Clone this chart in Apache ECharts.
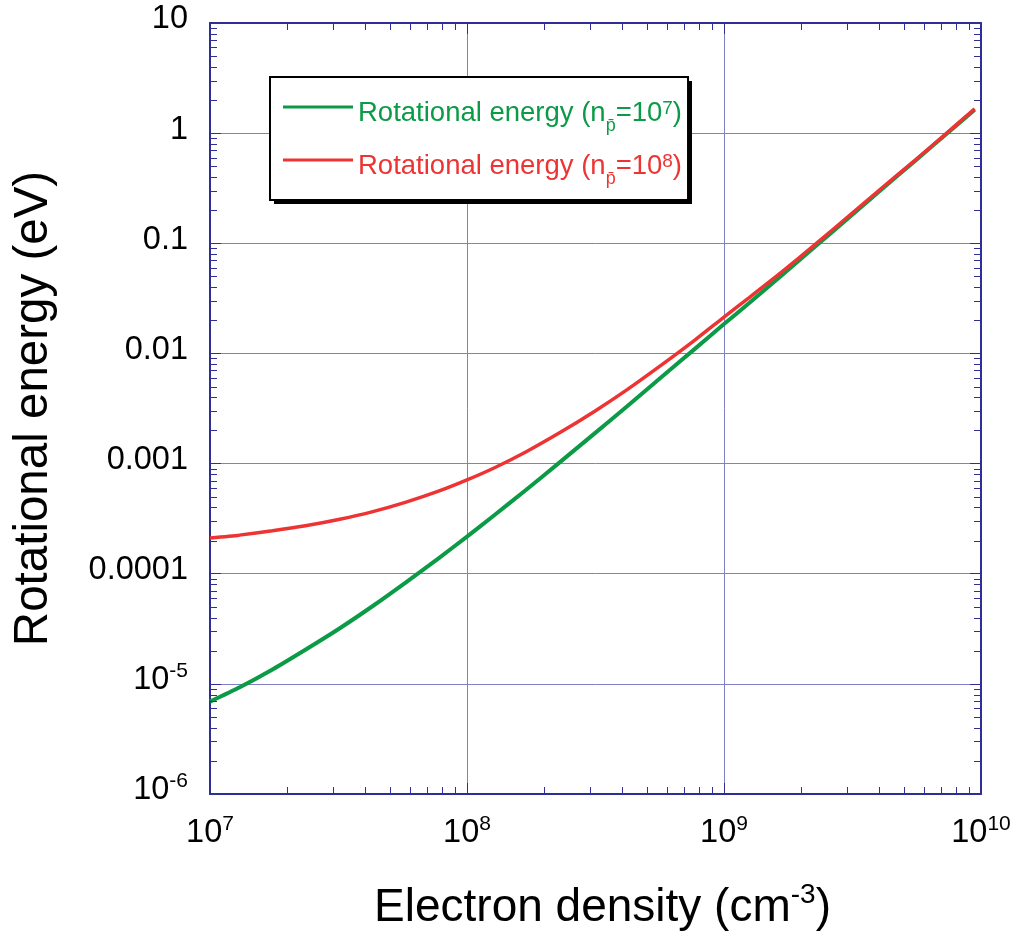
<!DOCTYPE html>
<html><head><meta charset="utf-8">
<script src="https://cdn.jsdelivr.net/npm/echarts@6/dist/echarts.min.js"></script>
<style>html,body{margin:0;padding:0;background:#fff}#c{width:1020px;height:942px}</style>
</head><body><div id="c"></div>
<script>
// Electron density (cm^-3)
const density = [1e7, 1.3e7, 1.75e7, 2.35e7, 3.2e7, 4.3e7, 5.75e7, 7.75e7, 1e8, 1.28e8, 1.7e8, 2.3e8, 3.13e8, 4.2e8, 5.7e8, 7.7e8, 1e9, 1.25e9, 1.68e9, 2.27e9, 3.05e9, 4.1e9, 5.55e9, 7.45e9, 9.45e9];
// Rotational energy (eV), n_pbar = 1e7
const energyN7 = [6.9e-6, 9.25e-6, 1.35e-5, 2.04e-5, 3.2e-5, 5.09e-5, 8.26e-5, 1.38e-4, 2.17e-4, 3.41e-4, 5.79e-4, 1.03e-3, 1.87e-3, 3.32e-3, 6.07e-3, 1.10e-2, 1.85e-2, 2.85e-2, 5.13e-2, 9.38e-2, 0.170, 0.308, 0.562, 1.014, 1.63];
// Rotational energy (eV), n_pbar = 1e8
const energyN8 = [2.11e-4, 2.24e-4, 2.45e-4, 2.72e-4, 3.12e-4, 3.66e-4, 4.44e-4, 5.61e-4, 7.10e-4, 9.16e-4, 1.28e-3, 1.91e-3, 2.97e-3, 4.69e-3, 7.82e-3, 1.32e-2, 2.14e-2, 3.20e-2, 5.50e-2, 9.82e-2, 0.176, 0.316, 0.570, 1.026, 1.667];

const seriesNames = ['Rotational energy (np=10^7)', 'Rotational energy (np=10^8)'];
const xTickLabels = {7: '10{sup|7}', 8: '10{sup|8}', 9: '10{sup|9}', 10: '10{sup|10}'};
const yTickLabels = {1: '10', 0: '1', '-1': '0.1', '-2': '0.01', '-3': '0.001', '-4': '0.0001', '-5': '10{sup|-5}', '-6': '10{sup|-6}'};

const FONT = '"Liberation Sans", Arial, sans-serif';
const AX = '#2e2e96';
const GRID = '#8080c8';
const GREEN = '#0b9a46';
const RED = '#ee3333';

// minor tick positions (2..9 within each decade)
const xMinor = [], yMinor = [];
for (let e = 7; e < 10; e++) for (let k = 2; k <= 9; k++) xMinor.push([k * Math.pow(10, e), 1]);
for (let e = -6; e < 1; e++) for (let k = 2; k <= 9; k++) yMinor.push([1e8, k * Math.pow(10, e)]);

const chart = echarts.init(document.getElementById('c'), null, {renderer: 'canvas'});
const exp = v => Math.round(Math.log10(v));
const axisRich = {
  sup: {fontSize: 21, fontFamily: FONT, color: '#000', lineHeight: 34, padding: [0, 0, 18, 0]}
};
const legRich = (c) => ({
  m: {color: c, fontSize: 27.5, fontFamily: FONT, lineHeight: 40, height: 27, verticalAlign: 'bottom'},
  s: {color: c, fontSize: 18, fontFamily: FONT, lineHeight: 40, height: 2, verticalAlign: 'bottom'},
  u: {color: c, fontSize: 19, fontFamily: FONT, lineHeight: 40, height: 36, verticalAlign: 'bottom'}
});
const gR = legRich(GREEN), rR = legRich(RED);
const legendRich = {gm: gR.m, gs: gR.s, gu: gR.u, rm: rR.m, rs: rR.s, ru: rR.u};

function minorRender(isX) {
  return function (params, api) {
    const cs = params.coordSys;
    const p = api.coord([api.value(0), api.value(1)]);
    const st = {stroke: AX, lineWidth: 1};
    if (isX) {
      const x = Math.round(p[0]) + 0.5, b = cs.y + cs.height, t = cs.y;
      return {type: 'group', children: [
        {type: 'line', shape: {x1: x, y1: b, x2: x, y2: b - 7}, style: st},
        {type: 'line', shape: {x1: x, y1: t, x2: x, y2: t + 7}, style: st}]};
    } else {
      const y = Math.round(p[1]) + 0.5, l = cs.x, r = cs.x + cs.width;
      return {type: 'group', children: [
        {type: 'line', shape: {x1: l, y1: y, x2: l + 7, y2: y}, style: st},
        {type: 'line', shape: {x1: r, y1: y, x2: r - 7, y2: y}, style: st}]};
    }
  };
}

const option = {
  animation: false,
  backgroundColor: '#fff',
  grid: {left: 210, top: 23, right: 39, bottom: 148, containLabel: false},
  graphic: [{
    type: 'rect', left: 274, top: 81, z: 3, silent: true,
    shape: {width: 418, height: 123}, style: {fill: '#000'}
  }],
  legend: {
    data: seriesNames,
    orient: 'vertical',
    left: 270, top: 77,
    padding: [14, 6, 12, 13],
    itemGap: 9,
    icon: 'rect',
    itemWidth: 70, itemHeight: 3,
    selectedMode: false,
    backgroundColor: '#fff',
    borderColor: '#000', borderWidth: 2,
    z: 6,
    textStyle: {fontFamily: FONT, fontSize: 27.5, rich: legendRich},
    formatter: function (name) {
      if (name === seriesNames[0]) return '{gm|Rotational energy (n}{gs|p\u0304}{gm|=10}{gu|7}{gm|)}';
      return '{rm|Rotational energy (n}{rs|p\u0304}{rm|=10}{ru|8}{rm|)}';
    }
  },
  xAxis: [{
    type: 'log', logBase: 10, min: 1e7, max: 1e10,
    name: '{m|Electron density (cm}{u|-3}{m|)}',
    nameLocation: 'middle', nameGap: 88,
    nameTextStyle: {fontFamily: FONT, fontSize: 46, color: '#000', padding: [0, 0, 0, 14], rich: {
      m: {fontSize: 46, fontFamily: FONT, color: '#000', lineHeight: 52},
      u: {fontSize: 28, fontFamily: FONT, color: '#000', lineHeight: 52, padding: [0, 0, 26, 0]}}},
    axisLine: {show: true, onZero: false, lineStyle: {color: AX, width: 2}},
    axisTick: {show: true, inside: true, length: 11, lineStyle: {color: AX, width: 1}},
    splitLine: {show: true, lineStyle: {color: GRID, width: 1}},
    axisLabel: {
      margin: 22, fontSize: 32.5, fontFamily: FONT, color: '#000', lineHeight: 34,
      rich: Object.assign({}, axisRich),
      formatter: v => xTickLabels[exp(v)] || ''
    }
  }, {
    type: 'log', logBase: 10, min: 1e7, max: 1e10, position: 'top',
    axisLine: {show: true, onZero: false, lineStyle: {color: AX, width: 2}},
    axisTick: {show: true, inside: true, length: 11, lineStyle: {color: AX, width: 1}},
    axisLabel: {show: false}, splitLine: {show: false}
  }],
  yAxis: [{
    type: 'log', logBase: 10, min: 1e-6, max: 10,
    name: 'Rotational energy (eV)',
    nameLocation: 'middle', nameGap: 152,
    nameTextStyle: {fontFamily: FONT, fontSize: 47.5, color: '#000'},
    axisLine: {show: true, onZero: false, lineStyle: {color: AX, width: 2}},
    axisTick: {show: true, inside: true, length: 11, lineStyle: {color: AX, width: 1}},
    splitLine: {show: true, lineStyle: {color: GRID, width: 1}},
    axisLabel: {
      margin: 22, fontSize: 32.5, fontFamily: FONT, color: '#000', lineHeight: 34,
      padding: [0, 0, 7, 0],
      rich: Object.assign({}, axisRich),
      formatter: v => yTickLabels[exp(v)] || ''
    }
  }, {
    type: 'log', logBase: 10, min: 1e-6, max: 10, position: 'right',
    axisLine: {show: true, onZero: false, lineStyle: {color: AX, width: 2}},
    axisTick: {show: true, inside: true, length: 11, lineStyle: {color: AX, width: 1}},
    axisLabel: {show: false}, splitLine: {show: false}
  }],
  series: [
    {
      name: seriesNames[0], type: 'line', xAxisIndex: 0, yAxisIndex: 0,
      data: density.map((d, i) => [d, energyN7[i]]),
      symbol: 'none', showSymbol: false, smooth: 0.2, color: GREEN,
      lineStyle: {color: GREEN, width: 4}, z: 2
    },
    {
      name: seriesNames[1], type: 'line', xAxisIndex: 0, yAxisIndex: 0,
      data: density.map((d, i) => [d, energyN8[i]]),
      symbol: 'none', showSymbol: false, smooth: 0.2, color: RED,
      lineStyle: {color: RED, width: 3.5}, z: 2
    },
    {
      type: 'custom', xAxisIndex: 0, yAxisIndex: 0, silent: true, clip: false,
      data: xMinor, renderItem: minorRender(true), z: 5
    },
    {
      type: 'custom', xAxisIndex: 0, yAxisIndex: 0, silent: true, clip: false,
      data: yMinor, renderItem: minorRender(false), z: 5
    }
  ]
};
chart.setOption(option);
</script>
</body></html>
